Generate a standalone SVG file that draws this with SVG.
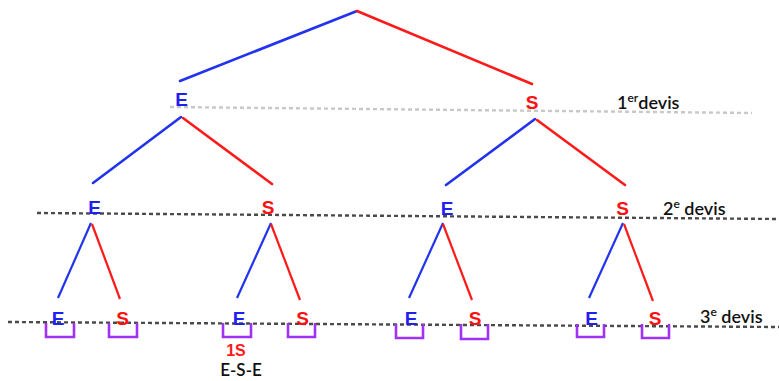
<svg xmlns="http://www.w3.org/2000/svg" width="779" height="381" viewBox="0 0 779 381">
  <style>
    .e { fill: #1f1ff0; font: bold 19px "Liberation Sans", Arial, sans-serif; text-anchor: middle; }
    .s { fill: #ff1010; font: bold 19px "Liberation Sans", Arial, sans-serif; text-anchor: middle; }
    .b { stroke: #2233ee; stroke-width: 2.6; fill: none; stroke-linecap: round; }
    .r { stroke: #ff1a1a; stroke-width: 2.6; fill: none; stroke-linecap: round; }
    .b2 { stroke: #2233ee; stroke-width: 2.2; fill: none; }
    .r2 { stroke: #ff1a1a; stroke-width: 2.2; fill: none; }
    .lvl-light { stroke: #c8c8c8; stroke-width: 2.4; stroke-dasharray: 4 3; fill: none; }
    .lvl-dark { stroke: #4a4a4a; stroke-width: 2.4; stroke-dasharray: 4 3; fill: none; }
    .bracket { stroke: #a032f5; stroke-width: 2.6; fill: none; }
    .lab { fill: #111; font: 600 18px Lato, "Liberation Sans", sans-serif; }
    .sup { font-size: 12px; }
  </style>

  <!-- level guide lines -->
  <g id="levels">
    <line class="lvl-light" x1="170" y1="107" x2="752" y2="113"/>
    <line class="lvl-dark" x1="37" y1="213" x2="779" y2="219"/>
    <line class="lvl-dark" x1="8" y1="322" x2="779" y2="327"/>
  </g>

  <!-- branches -->
  <g id="connectors">
    <line class="b" x1="357" y1="11" x2="180" y2="81"/>
    <line class="r" x1="357" y1="11" x2="532" y2="84"/>

    <line class="b" x1="181" y1="117" x2="93" y2="183"/>
    <line class="r" x1="183" y1="118" x2="272" y2="184"/>
    <line class="b" x1="535" y1="119" x2="446" y2="185"/>
    <line class="r" x1="537" y1="120" x2="625" y2="185"/>

    <line class="b2" x1="91" y1="223" x2="58" y2="298"/>
    <line class="r2" x1="92" y1="224" x2="120" y2="299"/>
    <line class="b2" x1="271" y1="223" x2="237" y2="298"/>
    <line class="r2" x1="271" y1="224" x2="300" y2="300"/>
    <line class="b2" x1="443" y1="223" x2="409" y2="298"/>
    <line class="r2" x1="443" y1="224" x2="472" y2="300"/>
    <line class="b2" x1="623" y1="223" x2="589" y2="298"/>
    <line class="r2" x1="624" y1="224" x2="653" y2="301"/>
  </g>

  <!-- first draw -->
  <g id="n1-E"><text class="e" x="181.5" y="106">E</text></g>
  <g id="n1-S"><text class="s" x="532" y="109">S</text></g>

  <!-- second draw -->
  <g id="n2-EE"><text class="e" x="94.5" y="214">E</text></g>
  <g id="n2-ES"><text class="s" x="268" y="214">S</text></g>
  <g id="n2-SE"><text class="e" x="447" y="215">E</text></g>
  <g id="n2-SS"><text class="s" x="622.5" y="215">S</text></g>

  <!-- third draw -->
  <g id="n3-EEE"><text class="e" x="58" y="325">E</text><path class="bracket" d="M46,323 V337 H74 V323"/></g>
  <g id="n3-EES"><text class="s" x="122.5" y="325">S</text><path class="bracket" d="M109,323 V337 H137 V323"/></g>
  <g id="n3-ESE">
    <text class="e" x="239" y="325">E</text><path class="bracket" d="M223,323 V337 H251 V323"/>
    <text x="236" y="356" fill="#ff1a1a" style="font: bold 16px 'Liberation Sans', Arial, sans-serif" text-anchor="middle">1S</text>
    <text x="241" y="376" fill="#111" style="font: 600 17px Lato, 'Liberation Sans', sans-serif" text-anchor="middle">E-S-E</text>
  </g>
  <g id="n3-ESS"><text class="s" x="302.5" y="325">S</text><path class="bracket" d="M288,323 V337 H315 V323"/></g>
  <g id="n3-SEE"><text class="e" x="411" y="325">E</text><path class="bracket" d="M396,324 V338 H423 V324"/></g>
  <g id="n3-SES"><text class="s" x="475" y="325">S</text><path class="bracket" d="M461,324 V339 H488 V324"/></g>
  <g id="n3-SSE"><text class="e" x="591.5" y="325">E</text><path class="bracket" d="M577,324 V337 H604 V324"/></g>
  <g id="n3-SSS"><text class="s" x="655" y="325">S</text><path class="bracket" d="M642,324 V338 H669 V324"/></g>

  <!-- draw labels -->
  <g id="labels">
    <text class="lab" x="617" y="109">1<tspan class="sup" dy="-7">er</tspan><tspan dy="7">devis</tspan></text>
    <text class="lab" x="663" y="215">2<tspan class="sup" dy="-7">e</tspan><tspan dy="7"> devis</tspan></text>
    <text class="lab" x="700" y="323">3<tspan class="sup" dy="-7">e</tspan><tspan dy="7"> devis</tspan></text>
  </g>
</svg>
